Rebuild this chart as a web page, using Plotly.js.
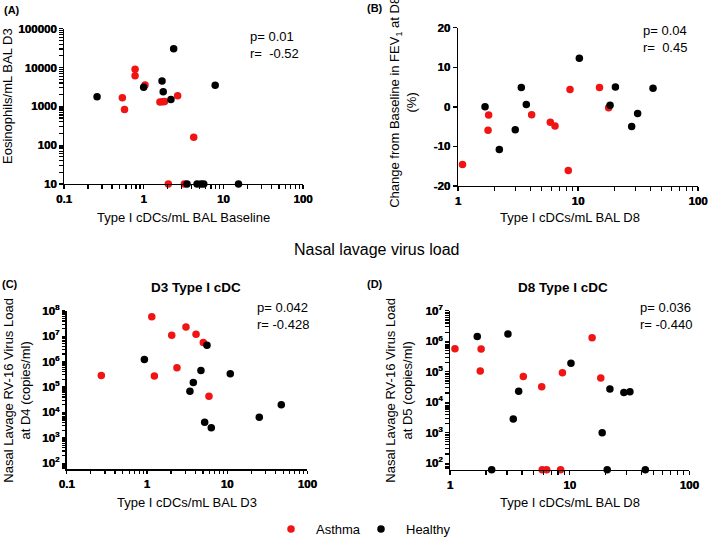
<!DOCTYPE html>
<html>
<head>
<meta charset="utf-8">
<script src="https://cdn.plot.ly/plotly-3.0.1.min.js"></script>
<style>
  body { margin: 0; background: #fff; }
  #chart { width: 709px; height: 544px; }
</style>
</head>
<body>
<div id="chart"></div>
<script>
// panel A: baseline cDCs vs eosinophils D3
var aAsthmaX = [0.54, 0.575, 0.78, 0.78, 1.04, 1.6, 1.73, 1.83, 2.67, 4.25, 2.04, 3.24];
var aAsthmaY = [1660, 822, 9070, 6150, 3550, 1290, 1320, 1340, 1870, 160, 10, 10];
var aHealthyX = [0.26, 1.0, 1.70, 1.76, 2.2, 2.38, 7.9, 3.5, 4.68, 5.25, 5.68, 15.5];
var aHealthyY = [1760, 3100, 4470, 2360, 1505, 30400, 3470, 10, 10, 10, 10, 10];

// panel B: D8 cDCs vs FEV1 change
var bAsthmaX = [1.09, 1.80, 1.78, 4.11, 5.88, 6.43, 8.3, 8.58, 15.1, 18.0];
var bAsthmaY = [-14.6, -2.1, -5.9, -2.0, -3.9, -4.85, -16.1, 4.4, 4.85, -0.25];
var bHealthyX = [1.68, 2.21, 3.0, 3.37, 3.71, 10.26, 18.5, 20.5, 28.0, 31.4, 42.2];
var bHealthyY = [0, -10.8, -5.8, 4.85, 0.6, 12.3, 0.4, 5.0, -5.0, -1.7, 4.7];

// panel C: D3 cDCs vs virus load D4
var cAsthmaX = [0.27, 1.15, 1.24, 2.04, 2.37, 3.07, 3.16, 4.1, 5.05, 5.94, 13.5];
var cAsthmaY = [2.85e5, 5.8e7, 2.7e5, 1.1e7, 5.7e5, 2.3e7, 58, 1.2e7, 5.7e6, 4.3e4, 58];
var cHealthyX = [0.93, 1.65, 3.44, 3.79, 4.72, 5.25, 5.61, 6.35, 7.7, 10.96, 25.2, 47.4];
var cHealthyY = [1.2e6, 58, 6.8e4, 1.5e5, 4.5e5, 4.1e3, 4.4e6, 2.5e3, 58, 3.3e5, 6.4e3, 2.0e4];

// panel D: D8 cDCs vs virus load D5
var dAsthmaX = [1.10, 1.82, 1.79, 4.1, 5.84, 5.9, 6.43, 8.4, 8.7, 15.4, 18.2];
var dAsthmaY = [5.7e5, 5.6e5, 1.05e5, 7.0e4, 3.2e4, 61, 61, 61, 9.2e4, 1.3e6, 6.3e4];
var dHealthyX = [1.69, 2.23, 3.05, 3.38, 3.75, 10.26, 18.7, 20.6, 21.7, 28.4, 31.9, 42.9];
var dHealthyY = [1.43e6, 61, 1.75e6, 2.8e3, 2.3e4, 1.9e5, 1.0e3, 61, 2.7e4, 2.1e4, 2.2e4, 61];

// tick labels
var xTicksWide = [0.1, 1, 10, 100];
var xTextWide = ["0.1", "1", "10", "100"];
var xTicksNarrow = [1, 10, 100];
var xTextNarrow = ["1", "10", "100"];
var aYTicks = [10, 100, 1000, 10000, 100000];
var aYText = ["10", "100", "1000", "10000", "100000"];
var bYTicks = [-20, -10, 0, 10, 20];
var bYText = ["-20", "-10", "0", "10", "20"];
var cYTicks = [1e2, 1e3, 1e4, 1e5, 1e6, 1e7, 1e8];
var cYText = ["10<sup>2</sup>", "10<sup>3</sup>", "10<sup>4</sup>", "10<sup>5</sup>", "10<sup>6</sup>", "10<sup>7</sup>", "10<sup>8</sup>"];
var dYTicks = [1e2, 1e3, 1e4, 1e5, 1e6, 1e7];
var dYText = ["10<sup>2</sup>", "10<sup>3</sup>", "10<sup>4</sup>", "10<sup>5</sup>", "10<sup>6</sup>", "10<sup>7</sup>"];

var W = 709, H = 544;
function px(x) { return x / W; }
function py(y) { return 1 - y / H; }

var FONT = "Arial, 'Liberation Sans', sans-serif";
var RED = "#f01414", BLACK = "#000000";

function pts(x, y, xa, ya, color, name, legend, lg) {
  return {
    x: x, y: y, xaxis: xa, yaxis: ya,
    type: "scatter", mode: "markers", name: name,
    showlegend: legend, legend: lg || "legend", cliponaxis: false,
    marker: { color: color, size: 7.5 }
  };
}

var data = [
  pts(aAsthmaX, aAsthmaY, "x", "y", RED, "Asthma", true, "legend"),
  pts(aHealthyX, aHealthyY, "x", "y", BLACK, "Healthy", true, "legend2"),
  pts(bAsthmaX, bAsthmaY, "x2", "y2", RED, "Asthma", false),
  pts(bHealthyX, bHealthyY, "x2", "y2", BLACK, "Healthy", false),
  pts(cAsthmaX, cAsthmaY, "x3", "y3", RED, "Asthma", false),
  pts(cHealthyX, cHealthyY, "x3", "y3", BLACK, "Healthy", false),
  pts(dAsthmaX, dAsthmaY, "x4", "y4", RED, "Asthma", false),
  pts(dHealthyX, dHealthyY, "x4", "y4", BLACK, "Healthy", false)
];

// unlabelled in-between ticks on log axes: 2..9 of every decade inside the range
function minorVals(lo, hi) {
  var out = [];
  for (var n = Math.floor(lo); n < Math.ceil(hi); n++) {
    for (var k = 2; k <= 9; k++) {
      var v = k * Math.pow(10, n);
      var l = Math.log10(v);
      if (l > lo && l < hi) out.push(v);
    }
  }
  return out;
}

function ax(vals, text, opts) {
  var base = {
    showgrid: false, zeroline: false, showline: true,
    linecolor: "black", linewidth: 1.5,
    ticks: "outside", ticklen: 4, tickwidth: 1.5, tickcolor: "black",
    tickmode: "array", tickvals: vals, ticktext: text,
    tickfont: { family: FONT, size: 11.5, color: "black", weight: "bold",
      shadow: "0.4px 0 0 black" },
    fixedrange: true
  };
  for (var k in opts) base[k] = opts[k];
  if (base.type === "log") {
    var extra = minorVals(base.range[0], base.range[1]);
    base.tickvals = vals.concat(extra);
    base.ticktext = text.concat(extra.map(function () { return ""; }));
    base.ticklen = 3.5;
    base.tickwidth = 1.2;
  }
  return base;
}

var legendFont = { family: FONT, size: 13, color: "black" };

var layout = {
  width: W, height: H,
  margin: { l: 0, r: 0, t: 0, b: 0 },
  paper_bgcolor: "white", plot_bgcolor: "white",
  font: { family: FONT, color: "black", size: 13 },
  showlegend: true,
  legend: { x: px(266), xanchor: "left", y: py(535), yanchor: "middle",
    font: legendFont, itemwidth: 40, bgcolor: "rgba(0,0,0,0)" },
  legend2: { x: px(356), xanchor: "left", y: py(535), yanchor: "middle",
    font: legendFont, itemwidth: 40, bgcolor: "rgba(0,0,0,0)" },
  xaxis: ax(xTicksWide, xTextWide, { type: "log", range: [-1, 2],
    domain: [px(64), px(303)], anchor: "y" }),
  yaxis: ax(aYTicks, aYText, { type: "log", range: [1, 5],
    domain: [py(186), py(29)], anchor: "x" }),
  xaxis2: ax(xTicksNarrow, xTextNarrow, { type: "log", range: [0, 2],
    domain: [px(458), px(698)], anchor: "y2" }),
  yaxis2: ax(bYTicks, bYText, { range: [-20, 20],
    domain: [py(188), py(28)], anchor: "x2" }),
  xaxis3: ax(xTicksWide, xTextWide, { type: "log", range: [-1, 2],
    domain: [px(66.7), px(307.3)], anchor: "y3" }),
  yaxis3: ax(cYTicks, cYText, { type: "log", range: [1.766, 8],
    domain: [py(474.3), py(314.3)], anchor: "x3" }),
  xaxis4: ax(xTicksNarrow, xTextNarrow, { type: "log", range: [0, 2],
    domain: [px(450), px(689.3)], anchor: "y4" }),
  yaxis4: ax(dYTicks, dYText, { type: "log", range: [1.784, 7],
    domain: [py(475), py(314.3)], anchor: "x4" }),
  annotations: []
};

function note(text, x, y, o) {
  var a = {
    text: text, xref: "paper", yref: "paper", x: px(x), y: py(y),
    xanchor: "center", yanchor: "middle", showarrow: false,
    font: { family: FONT, size: 13, color: "black" }
  };
  for (var k in o) a[k] = o[k];
  layout.annotations.push(a);
}

var bold11 = { family: FONT, size: 11, color: "black", weight: "bold" };
var bold13 = { family: FONT, size: 13.5, color: "black", weight: "bold" };

// panel letters
note("(A)", 12, 10, { font: bold11 });
note("(B)", 375, 8, { font: bold11 });
note("(C)", 10, 287, { font: bold11 });
note("(D)", 375, 287, { font: bold11 });

// panel titles
note("Nasal lavage virus load", 377, 252, { font: { family: FONT, size: 16, color: "black" } });
note("D3 Type I cDC", 196, 291, { font: bold13 });
note("D8 Type I cDC", 563, 291, { font: bold13 });

// x titles
note("Type I cDCs/mL BAL Baseline", 183, 220);
note("Type I cDCs/mL BAL D8", 570, 220);
note("Type I cDCs/mL BAL D3", 187, 508);
note("Type I cDCs/mL BAL D8", 570, 508);

// y titles
note("Eosinophils/mL BAL D3", 8, 97, { textangle: -90 });
note("Change from Baseline in FEV<sub>1</sub> at D8<br>(%)", 403, 104, { textangle: -90 });
note("Nasal Lavage RV-16 Virus Load<br>at D4 (copies/ml)", 17, 395, { textangle: -90 });
note("Nasal Lavage RV-16 Virus Load<br>at D5 (copies/ml)", 399, 395, { textangle: -90 });

// stats
var stat = { xanchor: "left", align: "left" };
note("p=\u00a00.01<br>r=\u00a0\u00a0-0.52", 248, 46, stat);
note("p=\u00a00.04<br>r=\u00a0\u00a00.45", 641, 39, stat);
note("p=\u00a00.042<br>r=\u00a0-0.428", 255, 320, stat);
note("p=\u00a00.036<br>r=\u00a0-0.440", 638, 320, stat);

Plotly.newPlot("chart", data, layout, { displayModeBar: false, staticPlot: true });
</script>
</body>
</html>
